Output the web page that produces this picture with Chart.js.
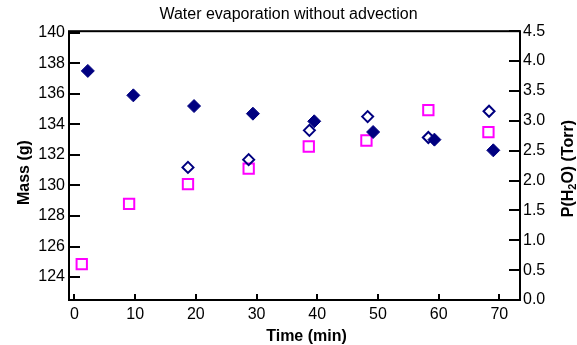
<!DOCTYPE html>
<html>
<head>
<meta charset="utf-8">
<script src="https://cdn.jsdelivr.net/npm/chart.js@4"></script>
<style>
html, body { margin: 0; padding: 0; background: #fff; }
</style>
</head>
<body>
<canvas id="chart" width="577" height="345"></canvas>
<script>
// data
const massTime = [2.2, 9.7, 19.7, 29.4, 39.5, 49.2, 59.3, 69.0];
const massValues = [137.5, 135.9, 135.2, 134.7, 134.2, 133.5, 133.0, 132.3];
const pOpenTime = [18.7, 28.7, 38.7, 48.3, 58.3, 68.3];
const pOpenValues = [2.22, 2.35, 2.84, 3.07, 2.72, 3.16];
const pSquareTime = [1.2, 9.0, 18.7, 28.7, 38.6, 48.1, 58.3, 68.2];
const pSquareValues = [0.60, 1.61, 1.94, 2.20, 2.57, 2.67, 3.18, 2.81];

const timeTicks = [0, 10, 20, 30, 40, 50, 60, 70];
const massTicks = [124, 126, 128, 130, 132, 134, 136, 138, 140];
const pressureTicks = [0, 0.5, 1, 1.5, 2, 2.5, 3, 3.5, 4, 4.5];

const FONT = '"Liberation Sans", Arial, sans-serif';
Chart.defaults.font.family = FONT;
Chart.defaults.color = '#000';

function toPoints(xs, ys) {
    return xs.map((x, i) => ({ x: x, y: ys[i] }));
}

// box, inward tick marks and axis titles
const framePlugin = {
    id: 'frame',
    afterDatasetsDraw(chart) {
        const { ctx, chartArea: a, scales } = chart;
        ctx.save();
        ctx.strokeStyle = '#000';
        ctx.lineWidth = 2;
        ctx.strokeRect(a.left, a.top, a.right - a.left, a.bottom - a.top);
        ctx.beginPath();
        massTicks.forEach(v => {
            const y = Math.round(scales.y.getPixelForValue(v));
            ctx.moveTo(a.left, y); ctx.lineTo(a.left + 11, y);
        });
        pressureTicks.forEach(v => {
            const y = Math.round(scales.y2.getPixelForValue(v));
            ctx.moveTo(a.right, y); ctx.lineTo(a.right - 11, y);
        });
        timeTicks.forEach(v => {
            const x = Math.round(scales.x.getPixelForValue(v));
            ctx.moveTo(x, a.bottom); ctx.lineTo(x, a.bottom - 6);
        });
        ctx.stroke();

        ctx.fillStyle = '#000';
        ctx.font = 'bold 16px ' + FONT;
        ctx.textAlign = 'center';
        ctx.textBaseline = 'middle';
        ctx.fillText('Time (min)', (a.left + a.right) / 2 + 12, 337);

        ctx.save();
        ctx.translate(25, (a.top + a.bottom) / 2 + 7);
        ctx.rotate(-Math.PI / 2);
        ctx.fillText('Mass (g)', 0, 0);
        ctx.restore();

        // P(H2O) (Torr) with subscript
        const parts = [['P(H', 16, 0], ['2', 11, 4], ['O) (Torr)', 16, 0]];
        let total = 0;
        parts.forEach(p => { ctx.font = 'bold ' + p[1] + 'px ' + FONT; total += ctx.measureText(p[0]).width; });
        ctx.save();
        ctx.translate(569, (a.top + a.bottom) / 2 + 3);
        ctx.rotate(-Math.PI / 2);
        ctx.textAlign = 'left';
        let cx = -total / 2;
        parts.forEach(p => {
            ctx.font = 'bold ' + p[1] + 'px ' + FONT;
            ctx.fillText(p[0], cx, p[2]);
            cx += ctx.measureText(p[0]).width;
        });
        ctx.restore();
        ctx.restore();
    }
};

const tickFont = { size: 16 };

new Chart(document.getElementById('chart'), {
    type: 'scatter',
    data: {
        datasets: [
            {
                label: 'Mass',
                data: toPoints(massTime, massValues),
                yAxisID: 'y',
                pointStyle: 'rectRot',
                radius: 6.5,
                backgroundColor: '#000080',
                borderColor: '#000080',
                borderWidth: 1
            },
            {
                label: 'P open',
                data: toPoints(pOpenTime, pOpenValues),
                yAxisID: 'y2',
                pointStyle: 'rectRot',
                radius: 5.5,
                backgroundColor: 'rgba(0,0,0,0)',
                borderColor: '#000080',
                borderWidth: 2
            },
            {
                label: 'P square',
                data: toPoints(pSquareTime, pSquareValues),
                yAxisID: 'y2',
                pointStyle: 'rect',
                radius: 7.3,
                backgroundColor: 'rgba(0,0,0,0)',
                borderColor: '#ff00ff',
                borderWidth: 2
            }
        ]
    },
    options: {
        responsive: false,
        animation: false,
        devicePixelRatio: 1,
        layout: { padding: 0 },
        plugins: {
            legend: { display: false },
            tooltip: { enabled: false },
            title: {
                display: true,
                text: 'Water evaporation without advection',
                color: '#000',
                font: { size: 16, weight: 'normal' },
                padding: { top: 5, bottom: 7 }
            }
        },
        scales: {
            x: {
                type: 'linear',
                position: 'bottom',
                min: -0.9,
                max: 73.4,
                afterBuildTicks: s => { s.ticks = timeTicks.map(v => ({ value: v })); },
                afterFit: s => { s.height = 45; },
                grid: { display: false, drawTicks: false },
                border: { display: false },
                ticks: { font: tickFont, padding: 5, maxRotation: 0, autoSkip: false }
            },
            y: {
                type: 'linear',
                position: 'left',
                min: 122.5,
                max: 140.1,
                afterBuildTicks: s => { s.ticks = massTicks.map(v => ({ value: v })); },
                afterFit: s => { s.width = 69; },
                grid: { display: false, drawTicks: false },
                border: { display: false },
                ticks: { font: tickFont, padding: 4, autoSkip: false }
            },
            y2: {
                type: 'linear',
                position: 'right',
                min: 0,
                max: 4.5,
                afterBuildTicks: s => { s.ticks = pressureTicks.map(v => ({ value: v })); },
                afterFit: s => { s.width = 57; },
                grid: { display: false, drawTicks: false },
                border: { display: false },
                ticks: { font: tickFont, padding: 3, autoSkip: false, callback: v => v.toFixed(1) }
            }
        }
    },
    plugins: [framePlugin]
});
</script>
</body>
</html>
